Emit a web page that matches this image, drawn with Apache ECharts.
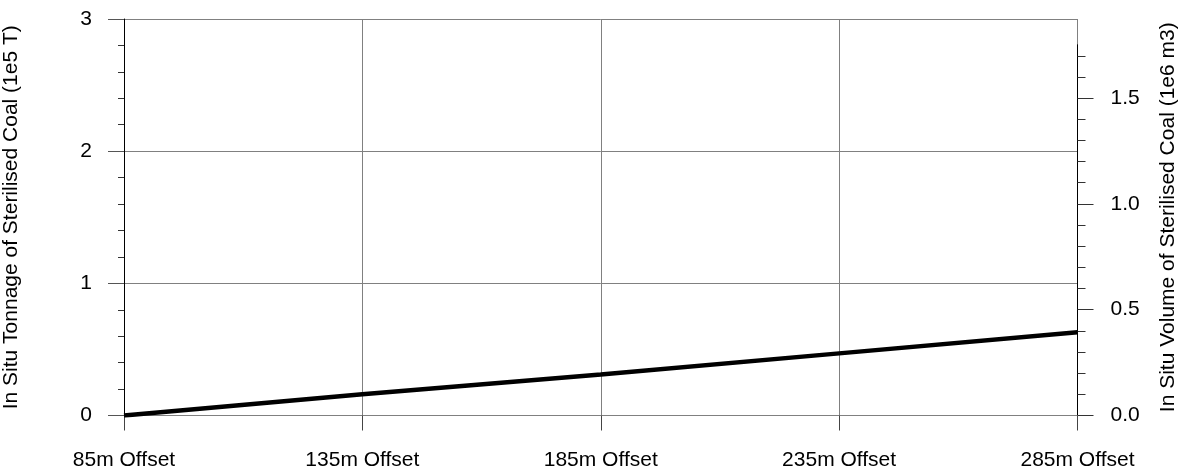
<!DOCTYPE html>
<html>
<head>
<meta charset="utf-8">
<script src="https://cdn.jsdelivr.net/npm/echarts@6/dist/echarts.min.js"></script>
<style>
  html, body { margin: 0; padding: 0; background: #fff; }
  #chart { width: 1185px; height: 474px; }
</style>
</head>
<body>
<div id="chart"></div>
<script>
// Offsets along the x axis
const categories = ['85m Offset', '135m Offset', '185m Offset', '235m Offset', '285m Offset'];
// In situ tonnage of sterilised coal (1e5 T)
const tonnage = [0, 0.16, 0.31, 0.47, 0.63];
// Left axis tick values
const tonnageTicks = [0, 1, 2, 3];
// Right axis tick values
const volumeTicks = [0, 0.5, 1.0, 1.5];

// Volume (1e6 m3) that corresponds to one unit of tonnage (1e5 T)
const volumePerTonnage = 0.6246;
const tonnageMax = 3;
const volumeFull = tonnageMax * volumePerTonnage;
// The drawn right axis stops short of the plot top
const volumeAxisMax = 1.752;

const FONT = '"Liberation Sans", Arial, Helvetica, sans-serif';
const FS = 21;
const GRID_COLOR = '#808080';

const gridLeft = 124, gridRight = 107.5, gridTop = 19, gridBottom = 58.5;
const plotH = 474 - gridTop - gridBottom;
const rightTop = gridTop + plotH * (1 - volumeAxisMax / volumeFull);

const chart = echarts.init(document.getElementById('chart'), null, { renderer: 'canvas' });

chart.setOption({
  animation: false,
  backgroundColor: '#fff',
  textStyle: { fontFamily: FONT },
  grid: [
    { left: gridLeft, right: gridRight, top: gridTop, bottom: gridBottom, containLabel: false, outerBoundsMode: 'none' },
    { left: gridLeft, right: gridRight, top: rightTop, bottom: gridBottom, containLabel: false, outerBoundsMode: 'none' }
  ],
  xAxis: [
    {
      type: 'category',
      gridIndex: 0,
      data: categories,
      boundaryGap: false,
      axisLine: { lineStyle: { color: GRID_COLOR, width: 1 } },
      axisTick: { show: true, length: 15, lineStyle: { color: '#444' } },
      axisLabel: { interval: 0, margin: 34, color: '#000', fontSize: FS, fontFamily: FONT },
      splitLine: { show: true, lineStyle: { color: GRID_COLOR, width: 1 } }
    },
    {
      type: 'category',
      gridIndex: 1,
      data: categories,
      boundaryGap: false,
      show: false
    }
  ],
  yAxis: [
    {
      type: 'value',
      gridIndex: 0,
      position: 'left',
      min: 0,
      max: tonnageMax,
      interval: 1,
      name: 'In Situ Tonnage of Sterilised Coal (1e5 T)',
      nameLocation: 'middle',
      nameRotate: 90,
      nameGap: 102,
      nameTextStyle: { color: '#000', fontSize: FS, fontFamily: FONT },
      axisLine: { show: true, lineStyle: { color: '#000', width: 1 } },
      axisTick: { show: true, length: 16, lineStyle: { color: '#555' }, customValues: tonnageTicks },
      minorTick: { show: true, splitNumber: 5, length: 6, lineStyle: { color: '#333' } },
      axisLabel: { margin: 32, color: '#000', fontSize: FS, fontFamily: FONT, customValues: tonnageTicks },
      splitLine: { show: true, lineStyle: { color: GRID_COLOR, width: 1 } }
    },
    {
      // carries only the right-hand title, centred on the full plot height
      type: 'value',
      gridIndex: 0,
      position: 'right',
      min: 0,
      max: volumeFull,
      name: 'In Situ Volume of Sterilised Coal (1e6 m3)',
      nameLocation: 'middle',
      nameRotate: 90,
      nameGap: 80,
      nameTextStyle: { color: '#000', fontSize: FS, fontFamily: FONT },
      axisLine: { show: false },
      axisTick: { show: false },
      axisLabel: { show: false },
      splitLine: { show: false }
    },
    {
      type: 'value',
      gridIndex: 1,
      position: 'right',
      min: 0,
      max: volumeAxisMax,
      interval: 0.5,
      axisLine: { show: true, lineStyle: { color: '#000', width: 1 } },
      axisTick: { show: true, length: 16, lineStyle: { color: '#333' }, customValues: volumeTicks },
      minorTick: { show: true, splitNumber: 5, length: 8, lineStyle: { color: '#333' } },
      axisLabel: {
        margin: 33, color: '#000', fontSize: FS, fontFamily: FONT,
        customValues: volumeTicks,
        formatter: v => v.toFixed(1)
      },
      splitLine: { show: false }
    }
  ],
  series: [
    {
      type: 'line',
      xAxisIndex: 0,
      yAxisIndex: 0,
      data: tonnage,
      showSymbol: false,
      symbol: 'none',
      lineStyle: { color: '#000', width: 4.5 },
      z: 5
    }
  ]
});
</script>
</body>
</html>
